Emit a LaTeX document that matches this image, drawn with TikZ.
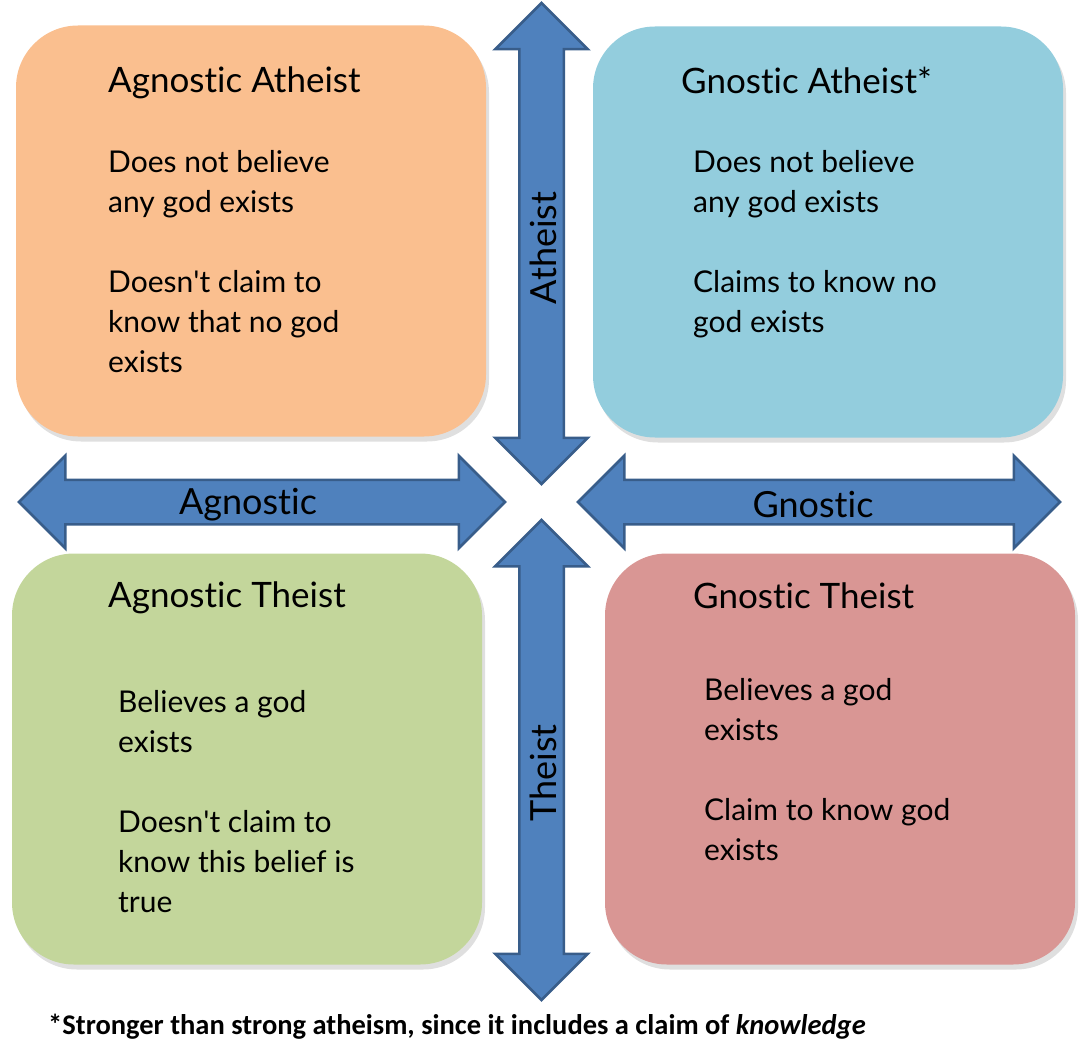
\documentclass[tikz,border=0pt]{standalone}
\usepackage{fontspec}
\setmainfont{Lato}[Ligatures={NoCommon}]
\newfontfamily\notefont{Carlito}
\usetikzlibrary{shapes.arrows, shadows, positioning}
\definecolor{orangebox}{HTML}{FABF8F}
\definecolor{bluebox}{HTML}{93CDDD}
\definecolor{greenbox}{HTML}{C3D69B}
\definecolor{redbox}{HTML}{D99694}
\definecolor{arrowfill}{HTML}{4F81BD}
\definecolor{arrowline}{HTML}{385D8A}

\begin{document}
\begin{tikzpicture}[x=1pt, y=-1pt,
    quad/.style={rectangle, rounded corners=62pt, fill=#1, draw=none,
                 minimum width=470pt, minimum height=411pt,
                 drop shadow={shadow xshift=3pt, shadow yshift=-5pt, opacity=0.25}},
    axis/.style={double arrow, double arrow head extend=24pt, double arrow tip angle=90,
                 text height=21pt, text depth=21pt, minimum width=90pt, inner sep=0pt,
                 fill=arrowfill, draw=arrowline, line width=2.5pt},
    title/.style={anchor=north west, inner sep=0pt, font=\fontsize{35}{40}\selectfont},
    body/.style={anchor=north west, inner sep=0pt, align=left, font=\fontsize{30}{40}\selectfont},
    axislabel/.style={inner sep=0pt, font=\fontsize{36}{40}\selectfont}
]
\useasboundingbox (0,0) rectangle (1087,1051);

% Quadrants
\node[quad=orangebox] (AA) at (251,231) {};
\node[quad=bluebox]   (GA) at (828,232) {};
\node[quad=greenbox]  (AT) at (247,759) {};
\node[quad=redbox]    (GT) at (840,759) {};

% Axes
\node[axis, rotate=90, minimum height=481pt] (ath) at (541.5,243.5) {};
\node[axis, rotate=90, minimum height=480pt] (the) at (541.5,760) {};
\node[axis, minimum height=486pt] (agn) at (262,502) {};
\node[axis, minimum height=482pt] (gno) at (819,502) {};

\node[axislabel, rotate=90] at (543,248) {Atheist};
\node[axislabel, rotate=90] at (543,773) {Theist};
\node[axislabel] at (248,505) {Agnostic};
\node[axislabel] at (813,505) {Gnostic};

% Texts
\node[title] (AAt) at (108,67) {Agnostic Atheist};
\node[body]  (AAb) at (108,150) {Does not believe\\any god exists\\[40pt]Doesn\textquotesingle t claim to\\know that no god\\exists};

\node[title] (GAt) at (681,67) {Gnostic Atheist*};
\node[body]  (GAb) at (693,150) {Does not believe\\any god exists\\[40pt]Claims to know no\\god exists};

\node[title] (ATt) at (108,582) {Agnostic Theist};
\node[body]  (ATb) at (118,690) {Believes a god\\exists\\[40pt]Doesn\textquotesingle t claim to\\know this belief is\\true};

\node[title] (GTt) at (693,583) {Gnostic Theist};
\node[body]  (GTb) at (704,678) {Believes a god\\exists\\[40pt]Claim to know god\\exists};

% Footnote
\node[anchor=base west, inner sep=0pt, font=\notefont\bfseries\fontsize{28.5}{32}\selectfont]
  (note) at (48,1034) {*Stronger than strong atheism, since it includes a claim of \textit{knowledge}};
\end{tikzpicture}
\end{document}
